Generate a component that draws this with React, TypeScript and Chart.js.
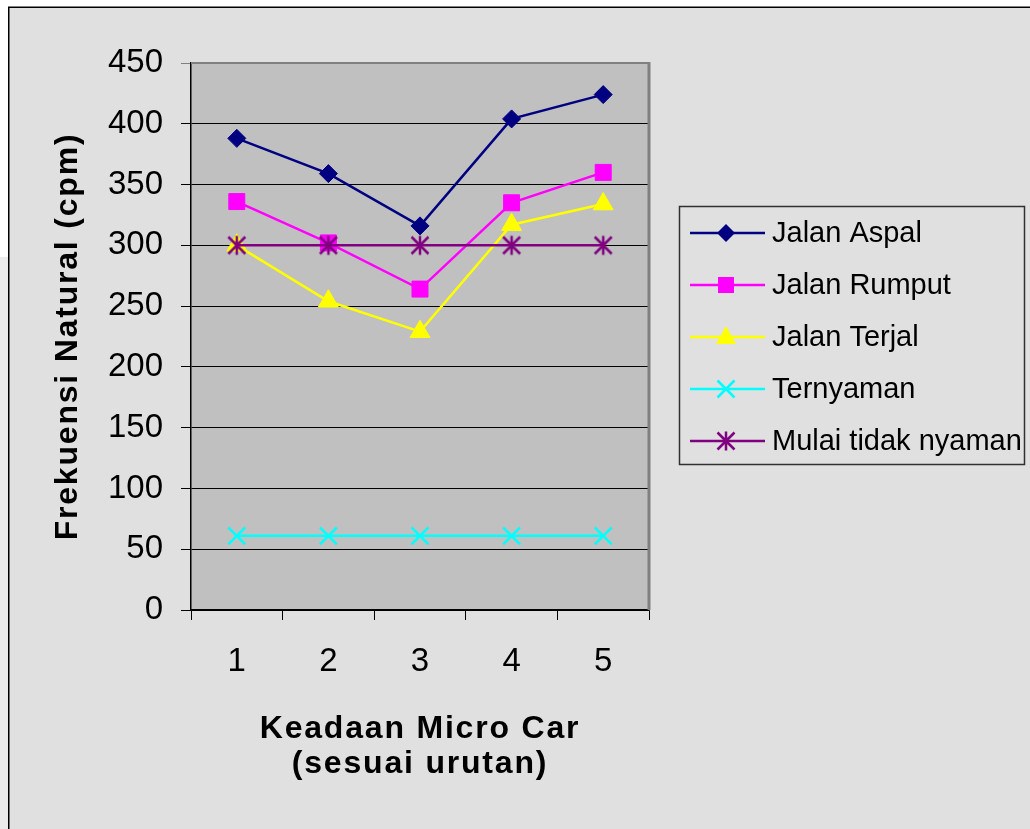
import React, { useEffect, useRef } from "react";
import { Chart, registerables } from "chart.js";

Chart.register(...registerables);

const categories = ["1", "2", "3", "4", "5"];
const jalanAspal = [388, 359, 316, 404, 424];
const jalanRumput = [336, 302, 264, 335, 360];
const jalanTerjal = [300, 254, 229, 317, 334];
const ternyaman = [61, 61, 61, 61, 61];
const mulaiTidakNyaman = [300, 300, 300, 300, 300];
const seriesLabels = ["Jalan Aspal", "Jalan Rumput", "Jalan Terjal", "Ternyaman", "Mulai tidak nyaman"];
const seriesColors = ["#000080", "#ff00ff", "#ffff00", "#00ffff", "#800080"];
const yTickValues = [0, 50, 100, 150, 200, 250, 300, 350, 400, 450];
const xTitle = ["Keadaan Micro Car", "(sesuai urutan)"];
const yTitle = "Frekuensi Natural (cpm)";

const FONT = "'Liberation Sans', Arial, Helvetica, sans-serif";

function makeStar(color: string): HTMLCanvasElement {
  const c = document.createElement("canvas");
  c.width = 22;
  c.height = 22;
  const g = c.getContext("2d")!;
  g.strokeStyle = color;
  g.lineWidth = 2.5;
  g.beginPath();
  g.moveTo(11, 1.5);
  g.lineTo(11, 20.5);
  g.moveTo(2.5, 2.5);
  g.lineTo(19.5, 19.5);
  g.moveTo(19.5, 2.5);
  g.lineTo(2.5, 19.5);
  g.stroke();
  return c;
}

function drawMarker(ctx: CanvasRenderingContext2D, kind: string, x: number, y: number, color: string) {
  ctx.save();
  ctx.fillStyle = color;
  ctx.strokeStyle = color;
  ctx.lineWidth = 2.5;
  ctx.beginPath();
  if (kind === "diamond") {
    const r = 9;
    ctx.moveTo(x - r, y);
    ctx.lineTo(x, y - r);
    ctx.lineTo(x + r, y);
    ctx.lineTo(x, y + r);
    ctx.closePath();
    ctx.fill();
  } else if (kind === "square") {
    ctx.rect(x - 8, y - 8, 16, 16);
    ctx.fill();
  } else if (kind === "triangle") {
    ctx.moveTo(x, y - 11);
    ctx.lineTo(x + 10, y + 7);
    ctx.lineTo(x - 10, y + 7);
    ctx.closePath();
    ctx.fill();
  } else if (kind === "x") {
    const r = 8.5;
    ctx.moveTo(x - r, y - r);
    ctx.lineTo(x + r, y + r);
    ctx.moveTo(x + r, y - r);
    ctx.lineTo(x - r, y + r);
    ctx.stroke();
  } else if (kind === "star") {
    ctx.moveTo(x, y - 9.5);
    ctx.lineTo(x, y + 9.5);
    ctx.moveTo(x - 8.5, y - 8.5);
    ctx.lineTo(x + 8.5, y + 8.5);
    ctx.moveTo(x + 8.5, y - 8.5);
    ctx.lineTo(x - 8.5, y + 8.5);
    ctx.stroke();
  }
  ctx.restore();
}

const markerKinds = ["diamond", "square", "triangle", "x", "star"];

function spaceTitle(scale: any) {
  if (scale.__spaced) return;
  scale.__spaced = true;
  const orig = scale.drawTitle;
  scale.drawTitle = function (...args: any[]) {
    const ctx: any = this.ctx;
    const prev = ctx.letterSpacing;
    ctx.letterSpacing = "1.8px";
    orig.apply(this, args);
    ctx.letterSpacing = prev || "0px";
  };
}

const backgroundPlugin = {
  id: "bgFrame",
  beforeDraw(chart: any) {
    const { ctx, width, height, chartArea } = chart;
    ctx.save();
    ctx.fillStyle = "#ffffff";
    ctx.fillRect(0, 0, width, height);
    ctx.fillStyle = "#ececec";
    ctx.fillRect(0, 257, 8, height - 257);
    ctx.fillStyle = "#e0e0e0";
    ctx.fillRect(9, 8, width, height);
    ctx.strokeStyle = "#000000";
    ctx.lineWidth = 1.5;
    ctx.beginPath();
    ctx.moveTo(8.75, 7.25);
    ctx.lineTo(8.75, height);
    ctx.moveTo(8, 7.25);
    ctx.lineTo(width, 7.25);
    ctx.stroke();
    ctx.fillStyle = "#c0c0c0";
    ctx.fillRect(chartArea.left, chartArea.top, chartArea.right - chartArea.left, chartArea.bottom - chartArea.top);
    ctx.restore();
  },
  beforeDatasetsDraw(chart: any) {
    const { ctx, chartArea } = chart;
    ctx.save();
    ctx.strokeStyle = "#808080";
    ctx.lineWidth = 2;
    ctx.beginPath();
    ctx.moveTo(chartArea.left, chartArea.top);
    ctx.lineTo(chartArea.right, chartArea.top);
    ctx.stroke();
    ctx.lineWidth = 3;
    ctx.beginPath();
    ctx.moveTo(chartArea.right, chartArea.top - 1);
    ctx.lineTo(chartArea.right, chartArea.bottom);
    ctx.stroke();
    ctx.restore();
  },
  afterDraw(chart: any) {
    const { ctx } = chart;
    ctx.save();
    ctx.fillStyle = "#e0e0e0";
    ctx.fillRect(679.5, 206.5, 345, 258);
    ctx.strokeStyle = "#303030";
    ctx.lineWidth = 1.5;
    ctx.strokeRect(679.5, 206.5, 345, 258);
    chart.data.datasets.forEach((ds: any, i: number) => {
      const y = 233 + i * 52;
      ctx.strokeStyle = ds.borderColor;
      ctx.lineWidth = 2.5;
      ctx.beginPath();
      ctx.moveTo(690, y);
      ctx.lineTo(765, y);
      ctx.stroke();
      drawMarker(ctx, markerKinds[i], 726, y, ds.borderColor);
      ctx.fillStyle = "#000000";
      ctx.font = `29px ${FONT}`;
      ctx.textBaseline = "middle";
      ctx.textAlign = "left";
      ctx.fillText(ds.label, 772, y + 1);
    });
    ctx.restore();
  },
};

export default function App() {
  const canvasRef = useRef<HTMLCanvasElement | null>(null);

  useEffect(() => {
    const canvas = canvasRef.current!;
    const star = makeStar(seriesColors[4]);
    const seriesValues = [jalanAspal, jalanRumput, jalanTerjal, ternyaman, mulaiTidakNyaman];
    const pointStyles: any[] = ["rectRot", "rect", "triangle", "crossRot", star];
    const pointRadii = [9, 11.3, 11.5, 12, 11];
    const chart = new Chart(canvas, {
      type: "line",
      data: {
        labels: categories,
        datasets: seriesValues.map((vals, i) => ({
          label: seriesLabels[i],
          data: vals,
          borderColor: seriesColors[i],
          backgroundColor: seriesColors[i],
          borderWidth: 2.5,
          pointStyle: pointStyles[i],
          pointRadius: pointRadii[i],
          pointBorderWidth: i === 3 ? 2.5 : 1,
          pointBorderColor: seriesColors[i],
          pointBackgroundColor: seriesColors[i],
          fill: false,
          tension: 0,
          order: 5 - i,
        })),
      },
      options: {
        responsive: false,
        animation: false,
        devicePixelRatio: 1,
        layout: { padding: { top: 63, right: 381, left: 0, bottom: 0 } },
        plugins: { legend: { display: false }, tooltip: { enabled: false } },
        scales: {
          x: {
            type: "category",
            offset: true,
            grid: {
              offset: true,
              drawOnChartArea: false,
              drawTicks: true,
              tickLength: 10,
              color: "#000000",
              lineWidth: 1,
            },
            border: { color: "#000000", width: 1.5 },
            ticks: {
              color: "#000000",
              font: { family: FONT, size: 33 },
              padding: 22,
            },
            title: {
              display: true,
              text: xTitle,
              color: "#000000",
              font: { family: FONT, size: 32, weight: "bold", lineHeight: "35px" },
              padding: { top: 0, bottom: 47 },
            },
            afterFit(scale: any) {
              scale.height = 219;
            },
            afterUpdate(scale: any) {
              spaceTitle(scale);
            },
          },
          y: {
            min: 0,
            max: 450,
            afterBuildTicks(scale: any) {
              scale.ticks = yTickValues.map((v) => ({ value: v }));
            },
            grid: {
              drawTicks: true,
              tickLength: 10,
              color: (c: any) => (c.tick && c.tick.value === 450 ? "#808080" : "#000000"),
              lineWidth: 1,
            },
            border: { color: "#000000", width: 1.5 },
            ticks: {
              color: "#000000",
              font: { family: FONT, size: 33 },
              padding: 18,
            },
            title: {
              display: true,
              text: yTitle,
              color: "#000000",
              font: { family: FONT, size: 32, weight: "bold", lineHeight: 1.2 },
              padding: { top: 49, bottom: 0 },
            },
            afterFit(scale: any) {
              scale.width = 191;
            },
            afterUpdate(scale: any) {
              spaceTitle(scale);
            },
          },
        },
      },
      plugins: [backgroundPlugin],
    } as any);
    return () => chart.destroy();
  }, []);

  return (
    <div style={{ position: "fixed", left: 0, top: 0, width: 1030, height: 829 }}>
      <canvas ref={canvasRef} width={1030} height={829} style={{ width: 1030, height: 829, display: "block" }} />
    </div>
  );
}
